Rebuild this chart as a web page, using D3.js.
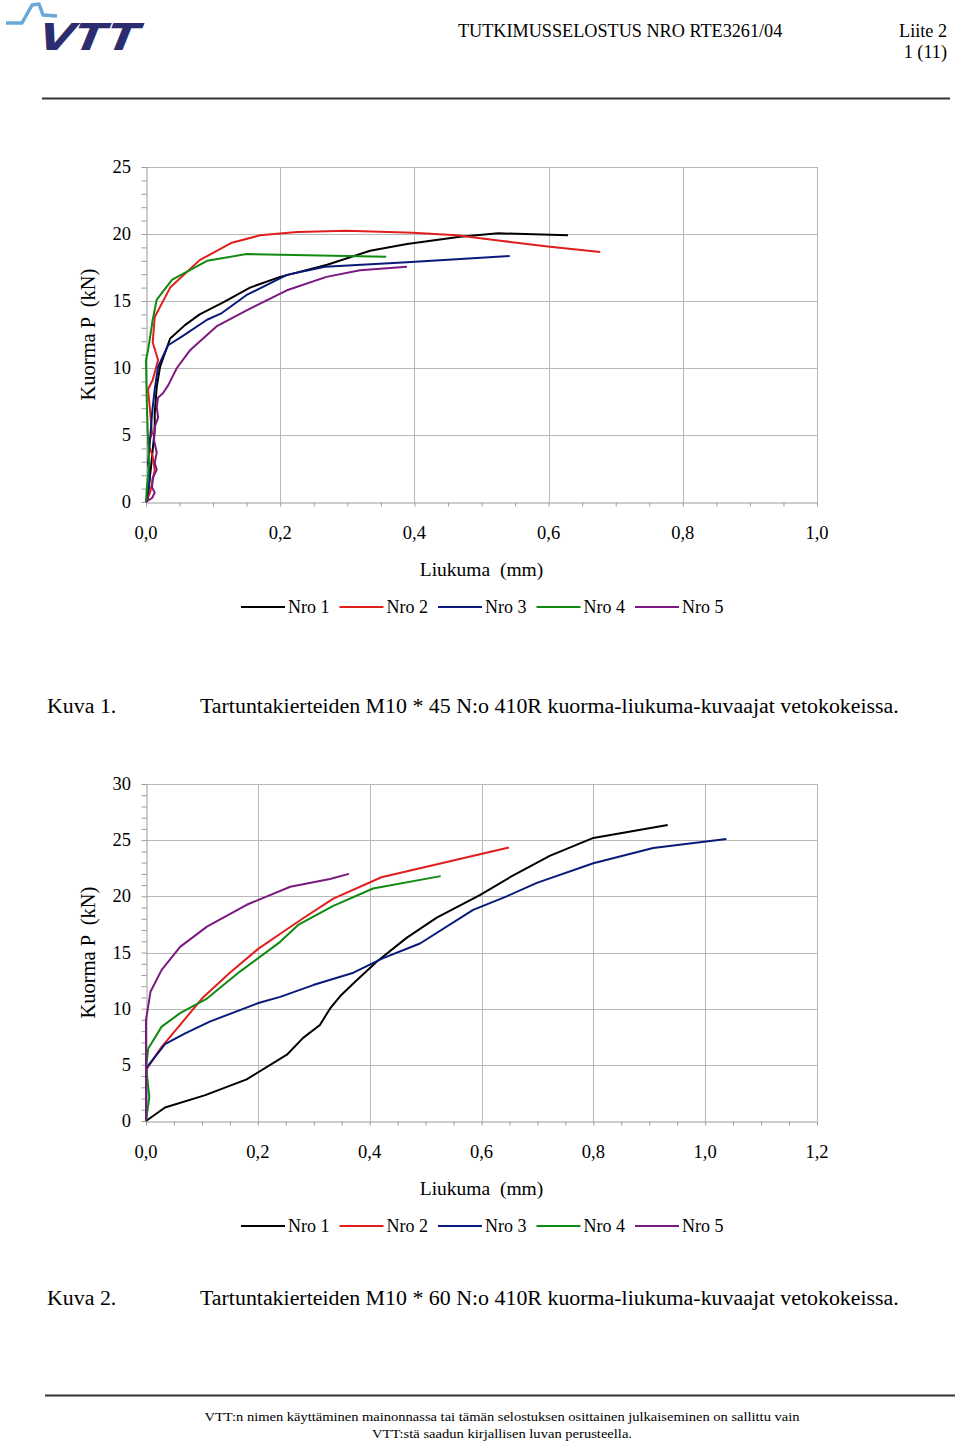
<!DOCTYPE html>
<html><head><meta charset="utf-8">
<script src="https://cdn.jsdelivr.net/npm/d3@7"></script>
<style>body{margin:0;background:#fff}svg{display:block}text{font-family:"Liberation Serif","Times New Roman",serif;fill:#000}</style>
</head><body>
<script>
// ---------- DATA ----------
const seriesNames = ["Nro 1", "Nro 2", "Nro 3", "Nro 4", "Nro 5"];
const seriesColors = ["#000000", "#e01e1e", "#0a1a7a", "#108a10", "#7a1a80"];

// Chart 1: M10 * 45  [slip mm, load kN]
const c1Nro1 = [[0,0],[0.003,0.3],[0.004,1.1],[0.007,2.4],[0.010,3.9],[0.013,5.4],[0.013,6.6],[0.016,8.6],[0.021,10.1],[0.036,12.2],[0.058,13.2],[0.080,14.0],[0.115,14.9],[0.155,16.0],[0.200,16.8],[0.270,17.7],[0.334,18.75],[0.389,19.25],[0.468,19.8],[0.525,20.05],[0.629,19.9]];
const c1Nro2 = [[0,0],[0.0015,0.15],[0.006,0.7],[0.009,1.4],[0.013,2.4],[0.010,3.4],[0.003,4.4],[0.009,5.1],[0.006,6.9],[0.003,8.4],[0.010,9.1],[0.018,10.6],[0.010,11.9],[0.013,13.8],[0.036,16.0],[0.080,18.05],[0.128,19.35],[0.170,19.9],[0.225,20.15],[0.299,20.25],[0.398,20.1],[0.463,19.9],[0.528,19.5],[0.602,19.05],[0.677,18.65]];
const c1Nro3 = [[0,0],[0.003,0.7],[0.006,1.9],[0.003,2.9],[0.006,4.6],[0.009,6.6],[0.013,8.4],[0.018,10.1],[0.033,11.7],[0.055,12.4],[0.091,13.6],[0.113,14.1],[0.150,15.45],[0.210,16.95],[0.267,17.55],[0.389,17.9],[0.542,18.35]];
const c1Nro4 = [[0,0],[0.001,0.9],[0.0035,2.2],[0.0045,2.9],[0.0025,5.4],[0.001,7.8],[0.0,10.6],[0.003,11.3],[0.010,13.6],[0.016,15.1],[0.039,16.6],[0.091,18.0],[0.150,18.5],[0.358,18.3]];
const c1Nro5 = [[0,0],[0.009,0.3],[0.013,0.7],[0.009,1.1],[0.010,1.8],[0.016,2.4],[0.013,2.9],[0.016,3.7],[0.012,4.6],[0.013,5.6],[0.018,6.3],[0.016,7.1],[0.018,7.8],[0.025,8.1],[0.033,8.7],[0.039,9.3],[0.046,10.0],[0.066,11.35],[0.105,13.1],[0.150,14.3],[0.210,15.8],[0.269,16.8],[0.319,17.3],[0.389,17.55]];

// Chart 2: M10 * 60
const c2Nro1 = [[0,0],[0.034,1.2],[0.106,2.3],[0.180,3.7],[0.252,5.9],[0.281,7.4],[0.311,8.55],[0.329,10.0],[0.347,11.1],[0.374,12.4],[0.413,14.2],[0.466,16.3],[0.520,18.1],[0.597,20.1],[0.651,21.7],[0.722,23.6],[0.800,25.2],[0.933,26.35]];
const c2Nro2 = [[0,0],[0.0,4.55],[0.028,6.6],[0.061,8.55],[0.100,10.9],[0.150,13.2],[0.200,15.3],[0.250,17.0],[0.281,18.05],[0.335,19.8],[0.421,21.7],[0.649,24.35]];
const c2Nro3 = [[0,0],[0.001,4.75],[0.034,6.85],[0.070,7.8],[0.114,8.85],[0.201,10.5],[0.240,11.05],[0.299,12.1],[0.371,13.2],[0.424,14.5],[0.490,15.8],[0.585,18.8],[0.645,20.0],[0.699,21.2],[0.800,22.95],[0.907,24.3],[1.038,25.1]];
const c2Nro4 = [[0,0],[0.006,2.15],[0.002,3.95],[0.0,4.7],[0.004,6.45],[0.028,8.4],[0.061,9.6],[0.109,10.9],[0.168,13.3],[0.240,15.95],[0.272,17.45],[0.335,19.15],[0.406,20.7],[0.527,21.8]];
const c2Nro5 = [[0,0],[0.0,9.0],[0.008,11.5],[0.028,13.45],[0.061,15.5],[0.109,17.3],[0.180,19.25],[0.258,20.85],[0.329,21.55],[0.363,22.0]];

const c1XTicks = [0, 0.2, 0.4, 0.6, 0.8, 1.0];
const c1YTicks = [0, 5, 10, 15, 20, 25];
const c2XTicks = [0, 0.2, 0.4, 0.6, 0.8, 1.0, 1.2];
const c2YTicks = [0, 5, 10, 15, 20, 25, 30];

const xTitle = "Liukuma  (mm)";
const yTitle = "Kuorma P  (kN)";
const caption1Label = "Kuva 1.";
const caption1Text = "Tartuntakierteiden M10 * 45 N:o 410R kuorma-liukuma-kuvaajat vetokokeissa.";
const caption2Label = "Kuva 2.";
const caption2Text = "Tartuntakierteiden M10 * 60 N:o 410R kuorma-liukuma-kuvaajat vetokokeissa.";
const headerTitle = "TUTKIMUSSELOSTUS NRO RTE3261/04";
const headerRight1 = "Liite 2";
const headerRight2 = "1 (11)";
const footer1 = "VTT:n nimen käyttäminen mainonnassa tai tämän selostuksen osittainen julkaiseminen on sallittu vain";
const footer2 = "VTT:stä saadun kirjallisen luvan perusteella.";

// ---------- DRAW ----------
const W = 960, H = 1442;
const svg = d3.select("body").append("svg").attr("width", W).attr("height", H);
svg.append("rect").attr("width", W).attr("height", H).attr("fill", "#fff");

// Logo
const logo = svg.append("g");
logo.append("polyline").attr("points", "6,23 22,23 32,5 39,4 43,15 57,16")
  .attr("fill", "none").attr("stroke", "#6aa8d8").attr("stroke-width", 3.5).attr("stroke-linejoin", "round");
logo.append("text").attr("x", 36).attr("y", 50).attr("transform", "skewX(-22) translate(18,0)")
  .style("font-family", "DejaVu Sans").style("font-weight", "bold").style("font-size", "37px")
  .attr("textLength", 100).attr("lengthAdjust", "spacingAndGlyphs")
  .style("fill", "#2b2d6e").text("VTT");

// Header
svg.append("text").attr("x", 458).attr("y", 37).style("font-size", "18.2px").text(headerTitle);
svg.append("text").attr("x", 947).attr("y", 37).attr("text-anchor", "end").style("font-size", "18.2px").text(headerRight1);
svg.append("text").attr("x", 947).attr("y", 58).attr("text-anchor", "end").style("font-size", "18.2px").text(headerRight2);
svg.append("line").attr("x1", 42).attr("x2", 950).attr("y1", 98.5).attr("y2", 98.5).attr("stroke", "#333").attr("stroke-width", 2);

const fmt = d => d3.format(".1f")(d).replace(".", ",");

function drawChart(cfg) {
  const g = svg.append("g");
  const x = d3.scaleLinear().domain([0, cfg.xMax]).range([cfg.left, cfg.right]);
  const y = d3.scaleLinear().domain([0, cfg.yMax]).range([cfg.bottom, cfg.top]);

  // grid
  g.append("g").selectAll("line").data(cfg.yTicks.slice(1)).join("line")
    .attr("x1", cfg.left).attr("x2", cfg.right).attr("y1", d => Math.round(y(d)) + 0.5).attr("y2", d => Math.round(y(d)) + 0.5)
    .attr("stroke", "#b8b8b8").attr("stroke-width", 1);
  g.append("g").selectAll("line").data(cfg.xTicks.slice(1)).join("line")
    .attr("y1", cfg.top).attr("y2", cfg.bottom).attr("x1", d => Math.round(x(d)) + 0.5).attr("x2", d => Math.round(x(d)) + 0.5)
    .attr("stroke", "#b8b8b8").attr("stroke-width", 1);

  // minor-tick axes
  const yMinor = d3.range(0, cfg.yMax + 0.001, 1);
  const xMinor = d3.range(0, cfg.xMax + 0.0001, 0.05);
  const ya = g.append("g").attr("transform", `translate(${Math.round(cfg.left) + 0.5},0)`)
    .call(d3.axisLeft(y).tickValues(yMinor).tickSize(5).tickFormat("").tickSizeOuter(0));
  const xa = g.append("g").attr("transform", `translate(0,${Math.round(cfg.bottom) + 0.5})`)
    .call(d3.axisBottom(x).tickValues(xMinor).tickSize(4).tickFormat("").tickSizeOuter(0));
  [ya, xa].forEach(a => { a.selectAll("path,line").attr("stroke", "#9a9a9a"); });

  // tick labels
  g.append("g").selectAll("text").data(cfg.yTicks).join("text")
    .attr("x", cfg.left - 15).attr("y", d => y(d) + 6).attr("text-anchor", "end")
    .style("font-size", "18.5px").text(d => d);
  g.append("g").selectAll("text").data(cfg.xTicks).join("text")
    .attr("x", d => x(d)).attr("y", cfg.bottom + 37).attr("text-anchor", "middle")
    .style("font-size", "18.5px").text(fmt);

  // titles
  g.append("text").attr("x", (cfg.left + cfg.right) / 2 - 0).attr("y", cfg.bottom + 74)
    .attr("text-anchor", "middle").style("font-size", "19.5px").style("white-space", "pre").text(xTitle);
  g.append("text").attr("transform", `translate(95,${(cfg.top + cfg.bottom) / 2}) rotate(-90)`)
    .attr("text-anchor", "middle").style("font-size", "20.5px").style("white-space", "pre").text(yTitle);

  // lines
  const line = d3.line().x(d => x(d[0])).y(d => y(d[1]));
  cfg.series.forEach((s, i) => {
    g.append("path").datum(s).attr("d", line).attr("fill", "none")
      .attr("stroke", seriesColors[i]).attr("stroke-width", 2).attr("stroke-linejoin", "round");
  });

  // legend
  const lg = g.append("g").attr("transform", `translate(241,${cfg.legendY})`);
  seriesNames.forEach((n, i) => {
    const ox = i * 98.5;
    lg.append("line").attr("x1", ox).attr("x2", ox + 44).attr("y1", 0).attr("y2", 0)
      .attr("stroke", seriesColors[i]).attr("stroke-width", 2);
    lg.append("text").attr("x", ox + 47).attr("y", 6).style("font-size", "18px").text(n);
  });

  // caption
  svg.append("text").attr("x", 47).attr("y", cfg.captionY).style("font-size", "21.9px").text(cfg.capLabel);
  svg.append("text").attr("x", 200).attr("y", cfg.captionY).style("font-size", "21.9px").text(cfg.capText);
}

drawChart({ left: 146, right: 817, top: 167, bottom: 502, xMax: 1.0, yMax: 25,
  xTicks: c1XTicks, yTicks: c1YTicks, series: [c1Nro1, c1Nro2, c1Nro3, c1Nro4, c1Nro5],
  legendY: 607, captionY: 713, capLabel: caption1Label, capText: caption1Text });

drawChart({ left: 146, right: 817, top: 784, bottom: 1121, xMax: 1.2, yMax: 30,
  xTicks: c2XTicks, yTicks: c2YTicks, series: [c2Nro1, c2Nro2, c2Nro3, c2Nro4, c2Nro5],
  legendY: 1226, captionY: 1305, capLabel: caption2Label, capText: caption2Text });

// Footer
svg.append("line").attr("x1", 45).attr("x2", 955).attr("y1", 1395.5).attr("y2", 1395.5).attr("stroke", "#333").attr("stroke-width", 2);
svg.append("text").attr("x", 502).attr("y", 1421).attr("text-anchor", "middle").style("font-size", "13.5px")
  .attr("textLength", 595).attr("lengthAdjust", "spacingAndGlyphs").text(footer1);
svg.append("text").attr("x", 502).attr("y", 1438).attr("text-anchor", "middle").style("font-size", "13.5px")
  .attr("textLength", 260).attr("lengthAdjust", "spacingAndGlyphs").text(footer2);
</script>
</body></html>
